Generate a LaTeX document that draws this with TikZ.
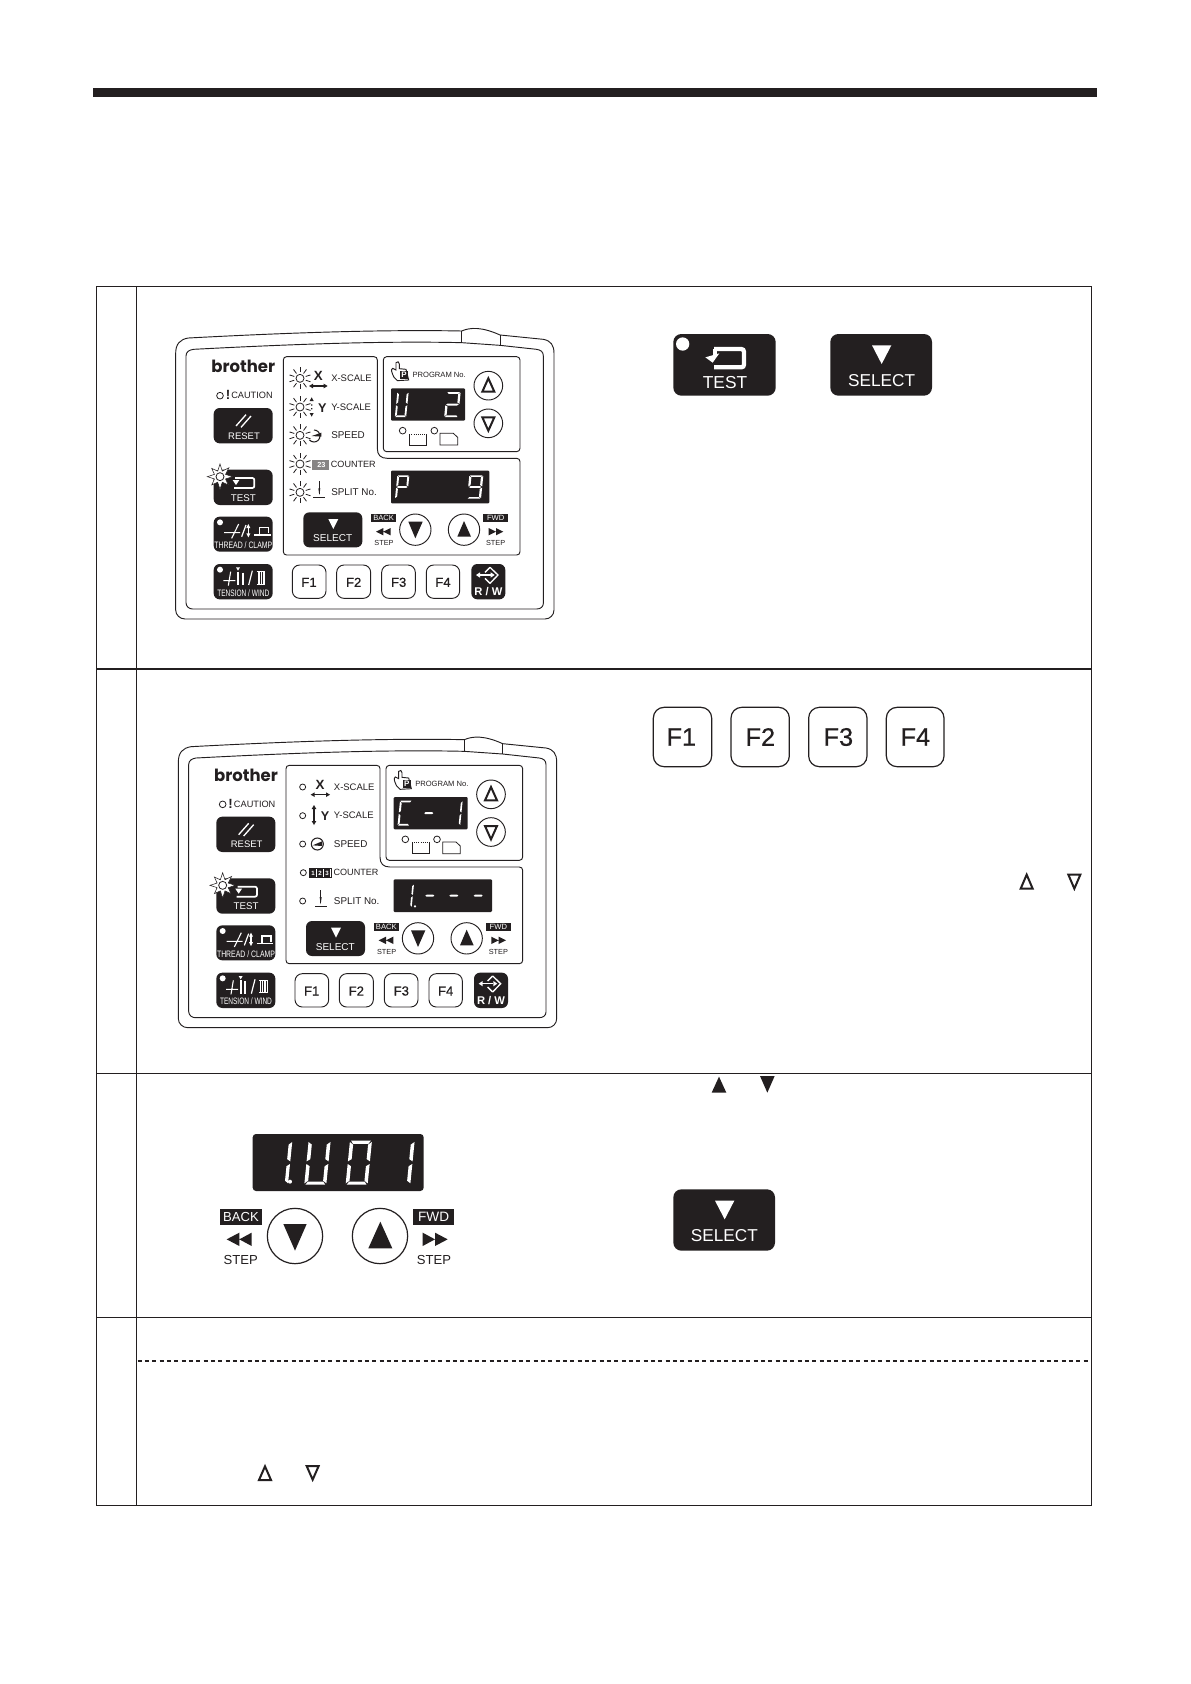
\documentclass[tikz,border=0pt]{standalone}
\usepackage{fontspec}
\usepackage{graphicx}
\setmainfont{Liberation Sans}
\newfontfamily\medfont[FakeBold=0.6]{Liberation Sans}
\newfontfamily\logofont{Poppins}
\definecolor{ink}{HTML}{231F20}
\newcommand\fsz[1]{\fontsize{#1}{#1}\selectfont}
\newcommand\cond[2]{\scalebox{#1}[1]{#2}}
\tikzset{
  grid/.style={draw=ink,line width=1.1pt},
  pline/.style={draw=ink,line width=.7pt},
  keydark/.style={fill=ink,draw=none,rounded corners=4.5pt},
  fkey/.style={draw=ink,fill=white,line width=.7pt,rounded corners=5.5pt},
  fw/.style={text=white,inner sep=0pt},
  fk/.style={text=ink,inner sep=0pt},
  wl/.style={draw=white,line width=.8pt},
  kl/.style={draw=ink,line width=.6pt}
}
\newcommand\sega{\fill[white] (.05,0)--(.95,0)--(.85,.07)--(.15,.07)--cycle;}
\newcommand\segb{\fill[white] (1,.03)--(1,.47)--(.84,.42)--(.84,.09)--cycle;}
\newcommand\segc{\fill[white] (1,.53)--(1,.97)--(.84,.91)--(.84,.58)--cycle;}
\newcommand\segd{\fill[white] (.05,1)--(.95,1)--(.85,.93)--(.15,.93)--cycle;}
\newcommand\sege{\fill[white] (0,.53)--(0,.97)--(.16,.91)--(.16,.58)--cycle;}
\newcommand\segf{\fill[white] (0,.03)--(0,.47)--(.16,.42)--(.16,.09)--cycle;}
\newcommand\segg{\fill[white] (.05,.5)--(.17,.46)--(.83,.46)--(.95,.5)--(.83,.54)--(.17,.54)--cycle;}
% x y w h segments
\newcommand\digit[5]{\begin{scope}[shift={(#1,#2)},xslant=.1,xscale=#3,yscale=#4]
  \foreach \s in {#5}{\csname seg\s\endcsname}\end{scope}}
\newcommand\sunled[2]{\begin{scope}[shift={(#1,#2)}]
  \draw[kl] (0,0) circle (12);
  \foreach \a in {18,54,...,342}{\draw[kl] (\a:18)--(\a:33);}
\end{scope}}
\newcommand\plainled[2]{\draw[kl,fill=white] (#1,#2) circle (9);}
\newcommand\panelbase{%
  \draw[pline,fill=white] (47,100) .. controls (47,72) and (60,58) .. (85,54) .. controls (350,40) and (650,28) .. (905,33) .. controls (930,22) and (965,20) .. (1020,45) -- (1150,58) .. controls (1172,62) and (1182,75) .. (1182,100) -- (1182,870) .. controls (1182,885) and (1170,897) .. (1155,897) -- (75,897) .. controls (60,897) and (47,885) .. (47,870) -- cycle;
  \draw[pline] (905,33)--(905,68) (1020,45)--(1020,76);
  \draw[pline] (78,108) .. controls (78,95) and (88,90) .. (100,88) .. controls (350,75) and (650,62) .. (905,68) -- (1020,76) -- (1130,88) .. controls (1142,90) and (1150,95) .. (1150,108) -- (1150,850) .. controls (1150,860) and (1142,867) .. (1130,867) -- (98,867) .. controls (88,867) and (78,860) .. (78,848) -- cycle;
  \draw[pline] (370,120) .. controls (370,114) and (374,110) .. (380,110) -- (642,110) .. controls (648,110) and (652,114) .. (652,120) -- (652,385) .. controls (652,405) and (662,415) .. (682,415) -- (1070,415) .. controls (1076,415) and (1080,419) .. (1080,425) -- (1080,695) .. controls (1080,701) and (1076,705) .. (1070,705) -- (380,705) .. controls (374,705) and (370,701) .. (370,695) -- cycle;
  \draw[pline,rounded corners=2.5pt] (670,110) rectangle (1080,395);
  \node[fk,font=\logofont\bfseries\fsz{12.6}] (logo) at (250,140) {\cond{.98}{brother}};
  \draw[kl] (180,227) circle (10);
  \node[fk,font=\bfseries\fsz{10}] (bang) at (204,226) {!};
  \node[fk,font=\fsz{6.9}] (caution) at (276,226) {CAUTION};
  % left keys
  \fill[keydark] (161,264) rectangle (338,370);
  \draw[wl,line width=1pt] (228,318)--(258,284) (243,322)--(273,288);
  \node[fw,font=\fsz{7.1}] (reset) at (252,348) {RESET};
  \fill[keydark] (161,449) rectangle (338,555);
  \draw[wl,line width=1.3pt,rounded corners=1.5pt] (225,474)--(283,474)--(283,504)--(222,504);
  \fill[white] (218,480)--(238,480)--(228,495)--cycle;
  \node[fw,font=\fsz{7.3}] (test) at (250,533) {TEST};
  \begin{scope}[shift={(180,470)}]
    \filldraw[fill=white,draw=ink,line width=.4pt] (0:38) \foreach \a/\r in {22.5/18,45/35,67.5/18,90/38,112.5/18,135/35,157.5/18,180/38,202.5/18,225/35,247.5/18,270/38,292.5/18,315/38,337.5/18}{ -- (\a:\r)} -- cycle;
    \draw[kl,fill=white] (0,0) circle (12);
  \end{scope}
  \fill[keydark] (161,590) rectangle (338,695);
  \fill[white] (180,607) circle (9);
  \draw[wl] (192,638)--(240,638) (215,655)--(236,612);
  \draw[wl,line width=.9pt] (245,650)--(258,615);
  \draw[wl,line width=1.1pt] (265,622)--(265,642);
  \fill[white] (259,624)--(271,624)--(265,612)--cycle (259,640)--(271,640)--(265,652)--cycle;
  \draw[wl,line width=1.1pt] (282,645)--(332,645) (298,645)--(298,622)--(325,622)--(325,640);
  \node[fw,font=\fsz{7}] (thread) at (250,676) {\cond{.74}{THREAD / CLAMP}};
  \fill[keydark] (161,732) rectangle (338,838);
  \fill[white] (180,749) circle (9);
  \draw[wl] (190,782)--(226,782) (205,797)--(212,755);
  \draw[wl,line width=1.4pt] (234,755)--(234,795) (248,758)--(248,795);
  \fill[white] (228,742)--(240,742)--(234,752)--cycle;
  \draw[wl,line width=.9pt] (266,795)--(277,752);
  \draw[wl,line width=.6pt] (290,755)--(316,755) (290,792)--(316,792) (294,755)--(294,792) (299,755)--(299,792) (304,755)--(304,792) (309,755)--(309,792) (313,755)--(313,792);
  \node[fw,font=\fsz{7}] (tension) at (250,818) {\cond{.7}{TENSION / WIND}};
  % F keys
  \draw[fkey] (397,735) rectangle (498,835);
  \node[fk,font=\medfont\fsz{9.8}] (fa) at (447,787) {F1};
  \draw[fkey] (530,735) rectangle (632,835);
  \node[fk,font=\medfont\fsz{9.8}] (fb) at (581,787) {F2};
  \draw[fkey] (665,735) rectangle (766,835);
  \node[fk,font=\medfont\fsz{9.8}] (fc) at (716,787) {F3};
  \draw[fkey] (799,735) rectangle (899,835);
  \node[fk,font=\medfont\fsz{9.8}] (fd) at (849,787) {F4};
  \fill[keydark] (934,732) rectangle (1036,838);
  \draw[wl,line width=1pt] (990,742)--(1014,765)--(990,790) (990,742)--(975,757) (990,790)--(975,775);
  \draw[wl,line width=1pt] (958,765)--(992,765);
  \fill[white] (960,757)--(960,773)--(948,765)--cycle (992,757)--(992,773)--(1004,765)--cycle;
  \node[fw,font=\bfseries\fsz{8.4}] (rw) at (985,815) {R / W};
  % program box
  \draw[kl,fill=white,line width=.7pt] (702,172) .. controls (695,158) and (692,148) .. (698,145) -- (708,150) -- (708,128) .. controls (712,122) and (718,126) .. (718,132) -- (718,146) -- (738,148) -- (746,180) -- (712,182) -- cycle;
  \fill[ink] (720,153) rectangle (745,177);
  \node[fw,font=\bfseries\fsz{6}] (pp) at (732,165) {P};
  \node[fk,font=\fsz{5.7},anchor=west] (prog) at (757,165) {PROGRAM No.};
  \draw[kl,line width=.7pt] (985,197) circle (43) (985,310) circle (43);
  \draw[ink,line width=1.5pt,line join=miter] (985,175)--(1003,215)--(967,215)--cycle;
  \draw[ink,line width=1.5pt,line join=miter] (985,332)--(1003,292)--(967,292)--cycle;
  \fill[ink,rounded corners=.8pt] (693,205) rectangle (915,302);
  \fill[ink,rounded corners=.8pt] (693,452) rectangle (988,550);
  \draw[kl] (728,332) circle (10) (823,332) circle (10);
  \draw[kl] (748,342)--(748,375)--(800,375)--(800,342);
  \draw[kl,densely dotted] (748,342)--(800,342);
  \draw[kl] (840,375)--(840,340)--(880,340)--(893,352)--(893,375)--cycle;
  % select row
  \fill[keydark] (430,577) rectangle (607,682);
  \fill[white] (505,597)--(535,597)--(520,627)--cycle;
  \node[fw,font=\fsz{7.5}] (sel) at (518,655) {SELECT};
  \fill[ink] (634,582) rectangle (708,607);
  \node[fw,font=\fsz{5.7}] (back) at (671,595) {BACK};
  \fill[ink] (648,635)--(670,624)--(670,646)--cycle (670,635)--(692,624)--(692,646)--cycle;
  \node[fk,font=\fsz{5.5}] (stepa) at (672,670) {STEP};
  \draw[kl,line width=.7pt] (766,629) circle (47) (912,629) circle (47);
  \fill[ink] (745,605)--(788,605)--(766,655)--cycle;
  \fill[ink] (892,650)--(933,650)--(912,603)--cycle;
  \fill[ink] (970,582) rectangle (1044,607);
  \node[fw,font=\fsz{5.7}] (fwd) at (1007,595) {FWD};
  \fill[ink] (1030,635)--(1008,624)--(1008,646)--cycle (1008,635)--(986,624)--(986,646)--cycle;
  \node[fk,font=\fsz{5.5}] (stepb) at (1007,670) {STEP};
  % row labels
  \node[fk,font=\fsz{7.1},anchor=west] (xs) at (513,175) {X-SCALE};
  \node[fk,font=\fsz{7.1},anchor=west] (ys) at (513,261) {Y-SCALE};
  \node[fk,font=\fsz{7.4},anchor=west] (sp) at (513,346) {SPEED};
  \node[fk,font=\fsz{6.8},anchor=west] (co) at (512,432) {COUNTER};
  \node[fk,font=\fsz{7.4},anchor=west] (sn) at (513,516) {SPLIT No.};
}
\begin{document}
\begin{tikzpicture}[x=.75pt,y=-.75pt]
\useasboundingbox (0,0) rectangle (1190,1684);
\fill[white] (0,0) rectangle (1190,1684);
\fill[ink] (93,88) rectangle (1097,96.7);
% table
\draw[grid] (96.5,286.7) rectangle (1091.5,1505.3);
\draw[grid] (136.7,286.7)--(136.7,1505.3);
\draw[grid] (96.5,669)--(1091.5,669) (96.5,1073.3)--(1091.5,1073.3) (96.5,1317.3)--(1091.5,1317.3);
\draw[ink,line width=1.5pt,dash pattern=on 3.2pt off 2.3pt] (137.5,1361.3)--(1089,1361.3);
% panel 1
\begin{scope}[shift={(160,320)},x=.25pt,y=-.25pt]
  \panelbase
  \sunled{420}{175}\sunled{420}{261}\sunled{420}{346}\sunled{420}{432}\sunled{420}{517}
  \node[fk,font=\bfseries\fsz{10}] (xa) at (475,168) {X};
  \draw[ink,line width=.8pt] (456,198)--(494,198);
  \fill[ink] (459,191)--(459,205)--(447,198)--cycle (491,191)--(491,205)--(503,198)--cycle;
  \node[fk,font=\bfseries\fsz{9.5}] (ya) at (487,263) {Y};
  \fill[ink] (449,243)--(461,243)--(455,232)--cycle (449,279)--(461,279)--(455,290)--cycle (453,253) rectangle (457,257) (453,264) rectangle (457,268);
  \draw[kl,line width=.8pt] (462,330) arc[start angle=-90,end angle=140,radius=18] ;
  \fill[ink] (455,348)--(484,338)--(484,350)--cycle;
  \fill[ink!55] (457,420) rectangle (508,450);
  \node[fw,font=\bfseries\fsz{5.5}] (cn) at (484,435) {23};
  \draw[kl,line width=.8pt] (478,484)--(478,522) (460,532)--(495,532);
  \fill[ink] (475,505)--(481,505)--(478,525)--cycle;
  \digit{712}{216}{34}{75}{b,c,d,e,f}
  \digit{860}{216}{42}{75}{a,b,g,e,d}
  \digit{712}{466}{36}{70}{a,b,e,f,g}
  \digit{928}{466}{42}{70}{a,b,c,d,f,g}
\end{scope}
% panel 2
\begin{scope}[shift={(162.67,728.67)},x=.25pt,y=-.25pt]
  \panelbase
  \plainled{420}{175}\plainled{420}{261}\plainled{420}{346}\plainled{422}{432}\plainled{420}{517}
  \node[fk,font=\bfseries\fsz{10}] (xb) at (472,168) {X};
  \draw[ink,line width=.8pt] (453,198)--(493,198);
  \fill[ink] (456,191)--(456,205)--(444,198)--cycle (490,191)--(490,205)--(502,198)--cycle;
  \node[fk,font=\bfseries\fsz{9.5}] (yb) at (487,263) {Y};
  \draw[ink,line width=.9pt] (454,238)--(454,280);
  \fill[ink] (447,241)--(461,241)--(454,229)--cycle (447,277)--(461,277)--(454,289)--cycle;
  \draw[kl,line width=.8pt] (464,346) circle (18);
  \fill[ink] (450,350)--(478,338)--(478,352)--cycle;
  \draw[kl,fill=white] (439,419) rectangle (505,447);
  \fill[ink] (442,422) rectangle (460,444);
  \fill[ink] (463,422) rectangle (481,444);
  \fill[ink] (484,422) rectangle (502,444);
  \node[fw,font=\bfseries\fsz{4.6}] (cna) at (451,433) {1};
  \node[fw,font=\bfseries\fsz{4.6}] (cnb) at (472,433) {2};
  \node[fw,font=\bfseries\fsz{4.6}] (cnc) at (493,433) {3};
  \draw[kl,line width=.8pt] (474,484)--(474,522) (457,534)--(494,534);
  \fill[ink] (471,505)--(477,505)--(474,527)--cycle;
  \digit{712}{216}{36}{75}{a,d,e,f}
  \digit{787}{216}{30}{75}{g}
  \digit{870}{216}{30}{75}{b,c}
  \digit{724}{466}{30}{70}{b,c}
  \fill[white] (757,533) circle (3.5);
  \digit{790}{466}{30}{70}{g}
  \digit{862}{466}{30}{70}{g}
  \digit{935}{466}{30}{70}{g}
\end{scope}
% row 1 large keys
\begin{scope}[shift={(640,320)},x=.25pt,y=-.25pt]
  \fill[ink,rounded corners=6pt] (100,42) rectangle (407,227);
  \fill[white] (128,72) circle (20);
  \draw[white,line width=3.2pt,rounded corners=2pt] (222,87)--(312,87)--(312,142)--(222,142);
  \fill[white] (196,112)--(238,100)--(218,128)--cycle;
  \draw[white,line width=3.2pt] (224,86)--(224,108);
  \node[fw,font=\fsz{13}] (tbig) at (255,188) {TEST};
  \fill[ink,rounded corners=6pt] (571,42) rectangle (876,227);
  \fill[white] (696,76)--(754,76)--(725,132)--cycle;
  \node[fw,font=\fsz{12.9}] (sbig) at (725,181) {SELECT};
\end{scope}
% row 2 F keys
\begin{scope}[shift={(640,690)},x=.25pt,y=-.25pt]
  \tikzset{bigf/.style={draw=ink,fill=white,line width=.9pt,rounded corners=8pt}}
  \draw[bigf] (40,52) rectangle (215,230);
  \node[fk,font=\medfont\fsz{19}] (fone) at (124,141) {F1};
  \draw[bigf] (273,52) rectangle (448,230);
  \node[fk,font=\medfont\fsz{19}] (ftwo) at (361,141) {F2};
  \draw[bigf] (506,52) rectangle (681,230);
  \node[fk,font=\medfont\fsz{19}] (fthree) at (595,141) {F3};
  \draw[bigf] (739,52) rectangle (912,230);
  \node[fk,font=\medfont\fsz{19}] (ffour) at (826,141) {F4};
  \draw[ink,line width=1.5pt,line join=miter] (1160,554)--(1178,596)--(1142,596)--cycle;
  \draw[ink,line width=1.5pt,line join=miter] (1303,596)--(1321,554)--(1285,554)--cycle;
\end{scope}
% row 3
\begin{scope}[shift={(200,1110)},x=.25pt,y=-.25pt]
  \fill[ink,rounded corners=2.5pt] (158,72) rectangle (671,243);
  \digit{215}{92}{62}{132}{b,c}
  \fill[white] (270,215) circle (6);
  \digit{326}{92}{66}{132}{c,b,d,e,f}
  \digit{450}{92}{66}{132}{a,b,c,d,e,f}
  \digit{578}{92}{66}{132}{b,c}
  \draw[kl,line width=.9pt] (285,378) circle (83) (540,378) circle (83);
  \fill[ink] (250,342)--(320,342)--(285,422)--cycle;
  \fill[ink] (505,415)--(577,415)--(541,335)--cycle;
  \fill[ink] (59,296) rectangle (187,345);
  \node[fw,font=\fsz{9.8}] (bbig) at (123,321) {BACK};
  \fill[ink] (80,388)--(118,368)--(118,408)--cycle (118,388)--(155,368)--(155,408)--cycle;
  \node[fk,font=\fsz{9.8}] (stepc) at (122,450) {STEP};
  \fill[ink] (639,296) rectangle (763,345);
  \node[fw,font=\fsz{10.2}] (fbig) at (701,321) {FWD};
  \fill[ink] (743,388)--(705,368)--(705,408)--cycle (705,388)--(668,368)--(668,408)--cycle;
  \node[fk,font=\fsz{9.8}] (stepd) at (702,450) {STEP};
\end{scope}
\begin{scope}[shift={(680,1060)},x=.25pt,y=-.25pt]
  \fill[ink] (95,98)--(139,98)--(117,50)--cycle;
  \fill[ink] (240,48)--(284,48)--(262,98)--cycle;
  \fill[ink,rounded corners=6pt] (-20,388) rectangle (285,572);
  \fill[white] (105,422)--(163,422)--(134,478)--cycle;
  \node[fw,font=\fsz{12.9}] (sbigb) at (133,526) {SELECT};
\end{scope}
% row 4 triangles
\begin{scope}[shift={(90,1300)},x=.25pt,y=-.25pt]
  \draw[ink,line width=1.5pt,line join=miter] (525,499)--(543,540)--(507,540)--cycle;
  \draw[ink,line width=1.5pt,line join=miter] (668,539)--(686,498)--(650,498)--cycle;
\end{scope}
\end{tikzpicture}
\end{document}
